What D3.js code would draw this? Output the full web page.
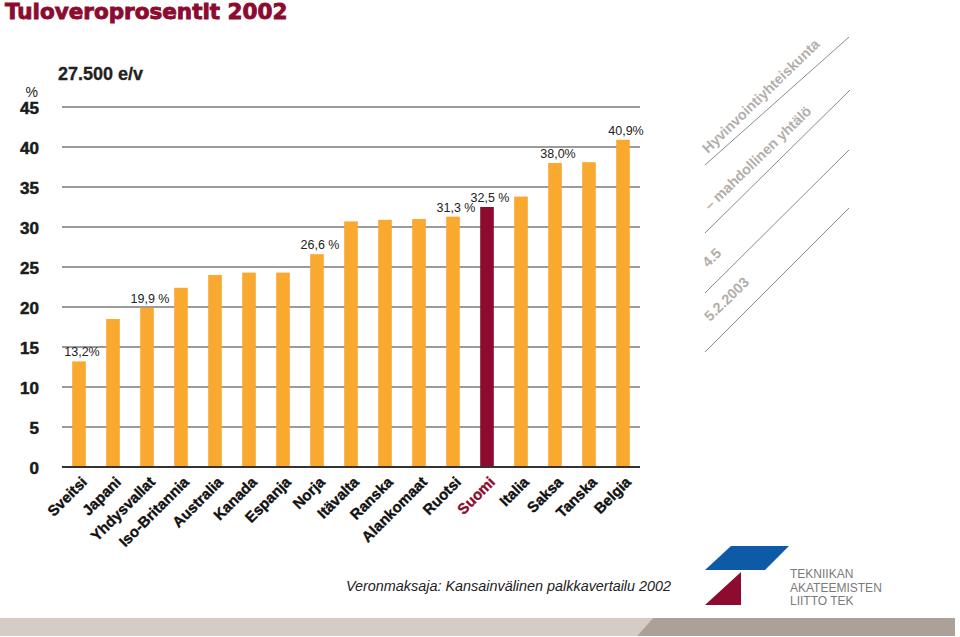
<!DOCTYPE html>
<html><head><meta charset="utf-8">
<script src="https://cdn.jsdelivr.net/npm/d3@7"></script>
<style>
html,body{margin:0;padding:0;background:#fff;}
svg{display:block;}
text{font-family:"Liberation Sans",Arial,sans-serif;}
</style></head>
<body>
<svg id="chart" width="960" height="637"></svg>
<script>
const countries = ["Sveitsi","Japani","Yhdysvallat","Iso-Britannia","Australia","Kanada","Espanja","Norja","Itävalta","Ranska","Alankomaat","Ruotsi","Suomi","Italia","Saksa","Tanska","Belgia"];
const values = [13.2,18.5,19.9,22.4,24.0,24.3,24.3,26.6,30.7,30.9,31.0,31.3,32.5,33.8,38.0,38.1,40.9];
const valueLabels = ["13,2%","","19,9 %","","","","","26,6 %","","","","31,3 %","32,5 %","","38,0%","","40,9%"];
const highlight = "Suomi";
const yTicks = [0,5,10,15,20,25,30,35,40,45];
const title = "Tuloveroprosentit 2002";
const subtitle = "27.500 e/v";
const source = "Veronmaksaja: Kansainvälinen palkkavertailu 2002";
const sideTexts = ["Hyvinvointiyhteiskunta","– mahdollinen yhtälö","4.5","5.2.2003"];
const logoLines = ["TEKNIIKAN","AKATEEMISTEN","LIITTO TEK"];

const orange = "#f9a92f", darkRed = "#8c0b2f";
const svg = d3.select("#chart");

const x = d3.scaleBand().domain(countries).range([62, 640]).paddingInner(0.6).paddingOuter(0.3);
const y = d3.scaleLinear().domain([0,45]).range([467,107]);

// title
svg.append("text").attr("x",5).attr("y",19).text(title)
  .style("font-family","'DejaVu Sans',sans-serif").style("font-weight","bold")
  .style("font-size","21.5px").attr("fill",darkRed)
  .attr("stroke",darkRed).attr("stroke-width",0.9);

svg.append("text").attr("x",58).attr("y",80).text(subtitle)
  .style("font-weight","bold").style("font-size","18px").attr("fill","#222")
  .attr("stroke","#222").attr("stroke-width",0.3);

svg.append("text").attr("x",38).attr("y",97).attr("text-anchor","end").text("%")
  .style("font-size","14px").attr("fill","#222");

// gridlines
const grid = svg.append("g");
grid.selectAll("line").data(yTicks).join("line")
  .attr("x1",62).attr("x2",640)
  .attr("y1",d=>y(d)).attr("y2",d=>y(d))
  .attr("stroke",d=>d===0?"#333":"#7a7a7a")
  .attr("stroke-width",d=>d===0?2:1.3);

// y labels
svg.append("g").selectAll("text").data(yTicks).join("text")
  .attr("x",39).attr("y",d=>y(d)+1).attr("dominant-baseline","central")
  .attr("text-anchor","end").text(d=>d)
  .style("font-weight","bold").style("font-size","17px").attr("fill","#1a1a1a")
  .attr("stroke","#1a1a1a").attr("stroke-width",0.5);

// bars
svg.append("g").selectAll("rect").data(countries).join("rect")
  .attr("x",d=>x(d)).attr("width",x.bandwidth())
  .attr("y",(d,i)=>y(values[i])).attr("height",(d,i)=>y(0)-y(values[i]))
  .attr("fill",d=>d===highlight?darkRed:orange);

// redraw baseline over bars
svg.append("line").attr("x1",62).attr("x2",640).attr("y1",y(0)).attr("y2",y(0))
  .attr("stroke","#333").attr("stroke-width",2);

// value labels
svg.append("g").selectAll("text").data(countries).join("text")
  .attr("x",d=>x(d)+x.bandwidth()/2+3)
  .attr("y",(d,i)=>y(values[i])-5)
  .attr("text-anchor","middle")
  .text((d,i)=>valueLabels[i])
  .style("font-size","12.5px").attr("fill","#222");

// category labels
svg.append("g").selectAll("text").data(countries).join("text")
  .attr("transform",d=>`translate(${x(d)+x.bandwidth()/2+9},${y(0)+16}) rotate(-45)`)
  .attr("text-anchor","end").text(d=>d)
  .style("font-weight","bold").style("font-size","15px")
  .attr("fill",d=>d===highlight?darkRed:"#111")
  .attr("stroke",d=>d===highlight?darkRed:"#111").attr("stroke-width",0.35);

// diagonal side decoration
const diagLines = [[705,165,849,37],[705,233,850,90],[705,293,849,150],[705,352,849,208]];
svg.append("g").selectAll("line").data(diagLines).join("line")
  .attr("x1",d=>d[0]).attr("y1",d=>d[1]).attr("x2",d=>d[2]).attr("y2",d=>d[3])
  .attr("stroke","#8a8a8a").attr("stroke-width",1);
const sidePos = [[708,154],[710,211],[708,268],[710,322]];
svg.append("g").selectAll("text").data(sideTexts).join("text")
  .attr("transform",(d,i)=>`translate(${sidePos[i][0]},${sidePos[i][1]}) rotate(-44)`)
  .text(d=>d).style("font-weight","bold").style("font-size","14.3px").attr("fill","#b3aeaa");

// source
svg.append("text").attr("x",346).attr("y",591).text(source)
  .style("font-style","italic").style("font-size","14.4px").attr("fill","#222");

// logo
svg.append("polygon").attr("points","731,546 789,546 765,570 705,570").attr("fill","#0d5aa7");
svg.append("polygon").attr("points","741,572 741,605 705,605").attr("fill",darkRed);
svg.append("g").selectAll("text").data(logoLines).join("text")
  .attr("x",790).attr("y",(d,i)=>578+i*13.5).text(d=>d)
  .style("font-size","12px").attr("fill","#7a7a7a");

// bottom band
svg.append("polygon").attr("points","0,618 653,618 637,636 0,636").attr("fill","#d6ccc6");
svg.append("polygon").attr("points","653,618 955,618 955,636 637,636").attr("fill","#aba198");
</script>
</body></html>
